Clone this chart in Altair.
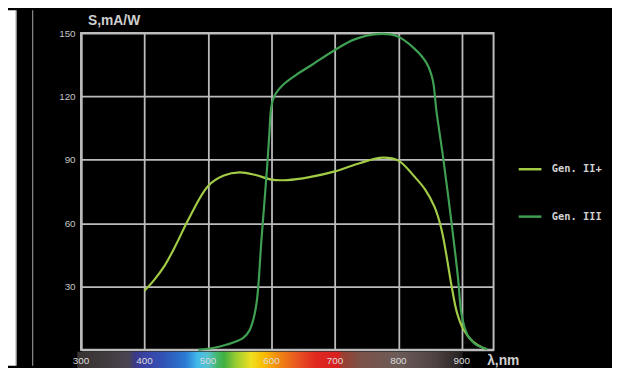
import altair as alt
import pandas as pd

# ---- data ----
series = ["Gen. II+", "Gen. III"]
series_colors = ["#a2cb46", "#3f9f52"]

gen2_nm = [400, 415, 432, 450, 468, 500, 525, 550, 575, 600, 625, 660, 700, 740, 775, 800, 826, 842, 857, 868, 884, 892, 902, 917, 933, 938]
gen2_s = [28, 33, 40, 50, 61, 77.5, 82.5, 84, 82.8, 80.6, 80.4, 81.8, 84.5, 88.5, 91, 89.6, 81.8, 76, 67.7, 57, 30, 18, 10, 4, 1, 0.5]

gen3_nm = [485, 510, 530, 555, 565, 572, 576, 579, 584, 590, 594, 597, 599, 602, 607, 620, 638, 664, 700, 731,
           767, 798, 824, 844, 854, 860, 871, 883, 894, 899, 905, 912, 922, 933, 940]
gen3_s = [0, 1, 2.5, 5.5, 9, 15, 21, 29, 51, 74, 90, 104, 113, 118, 121.5, 126, 130, 135, 142, 147,
          149.5, 148.5, 143, 136, 128, 113, 90, 62, 34, 18, 10, 5.5, 2.5, 1, 0.3]

x_grid_values = [300, 400, 500, 600, 700, 800, 900]
x_label_values = [300, 400, 500, 600, 700, 800, 900]
y_tick_values = [30, 60, 90, 120, 150]

# visible spectrum strip under the axis (wavelength, colour)
spectrum_start = 294
spectrum_end = 902
spectrum_nm = [294, 330, 375, 386, 400, 430, 465, 483, 500, 515, 525, 545, 568, 590, 610, 638, 669, 705, 712, 740, 800, 858, 895, 902]
spectrum_col = ["#383232", "#3e393b", "#4a4550", "#3a3a8c", "#3a42a2", "#3152b6", "#2a7ad4", "#42b8ea", "#56c2cc",
                "#44b66a", "#40b040", "#9ccc30", "#f0e020", "#f8b800", "#f08a10", "#e85a20", "#e02820", "#d82020",
                "#9a4030", "#7c5249", "#6c5c58", "#4e4242", "#2c2626", "#1a1616"]

GRID = "#bcbcbc"
TXT = "#cfcfcf"

curve_df = pd.DataFrame({
    "nm": gen2_nm + gen3_nm,
    "s": gen2_s + gen3_s,
    "series": [series[0]] * len(gen2_nm) + [series[1]] * len(gen3_nm),
})

x_scale = alt.Scale(domain=[300, 950], nice=False, zero=False)
y_scale = alt.Scale(domain=[0, 150], nice=False, zero=True)

x_axis = alt.Axis(values=x_grid_values, grid=True, gridColor=GRID, gridWidth=1.8,
                  labels=False, ticks=False, domain=True, domainColor=GRID, domainWidth=2,
                  title="λ,nm", titleX=411, titleY=11, titleAlign="left", titleBaseline="middle",
                  titleColor=TXT, titleFont="Liberation Sans", titleFontSize=14, titleFontWeight="bold")

span = spectrum_end - spectrum_start
gradient = alt.LinearGradient(
    gradient="linear",
    stops=[alt.GradientStop(offset=(w - spectrum_start) / span, color=c) for w, c in zip(spectrum_nm, spectrum_col)],
    x1=0, x2=1, y1=0, y2=0,
)

spectrum = alt.Chart(pd.DataFrame({"start": [spectrum_start], "end": [spectrum_end]})).mark_rect(
    fill=gradient
).encode(
    x=alt.X("start:Q", scale=x_scale, axis=x_axis),
    x2="end:Q",
    y=alt.value(323),
    y2=alt.value(350),
)

lines = alt.Chart(curve_df).mark_line(interpolate="catmull-rom", strokeWidth=2.2).encode(
    x=alt.X("nm:Q", scale=x_scale, axis=x_axis),
    y=alt.Y("s:Q", scale=y_scale,
            axis=alt.Axis(values=y_tick_values, grid=True, gridColor=GRID, gridWidth=1.8,
                          ticks=False, domain=True, domainColor=GRID, domainWidth=2,
                          labelFont="Liberation Sans", labelFontSize=10, labelColor="#c4c4c4", labelPadding=6,
                          title="S,mA/W", titleAngle=0, titleX=33, titleY=-13, titleAlign="center",
                          titleBaseline="middle", titleColor=TXT, titleFont="Liberation Sans",
                          titleFontSize=14, titleFontWeight="bold")),
    color=alt.Color("series:N", scale=alt.Scale(domain=series, range=series_colors),
                    legend=alt.Legend(orient="none", legendX=442, legendY=125, title=None,
                                      symbolType="stroke", symbolSize=530, symbolStrokeWidth=2.5,
                                      labelFont="DejaVu Sans Mono", labelFontWeight="bold", labelFontSize=10.5,
                                      labelColor="#d2d2d2", labelOffset=9, rowPadding=29)),
)

tick_df = pd.DataFrame({"nm": x_label_values, "label": [str(v) for v in x_label_values]})
tick_labels = alt.Chart(tick_df).mark_text(
    font="Liberation Sans", fontSize=10, color="#dcdcdc", baseline="middle", align="center"
).encode(
    x=alt.X("nm:Q", scale=x_scale, axis=x_axis),
    y=alt.value(332),
    text="label:N",
)

deco_df = pd.DataFrame({"k": [0]})
white_strip = alt.Chart(deco_df).mark_rect(color="white").encode(
    x=alt.value(-74), x2=alt.value(-66), y=alt.value(-23), y2=alt.value(337)
)
strip_edge = alt.Chart(deco_df).mark_rule(color="#8c8c8c", strokeWidth=1.2).encode(
    x=alt.value(-65.5), y=alt.value(-23), y2=alt.value(337)
)
frame_line = alt.Chart(deco_df).mark_rule(color="#8c8c8c", strokeWidth=1.2).encode(
    x=alt.value(-49), y=alt.value(-23), y2=alt.value(337)
)

chart = alt.layer(spectrum, lines, tick_labels, white_strip, strip_edge, frame_line).properties(
    width=418,
    height=321,
    padding={"left": 74, "top": 23, "right": 120, "bottom": 16},
    autosize=alt.AutoSizeParams(type="none"),
    background="black",
).configure_view(
    stroke=GRID, strokeWidth=2, fill="black"
)

chart.save("out.html", embed_options={"renderer": "svg", "actions": False})
